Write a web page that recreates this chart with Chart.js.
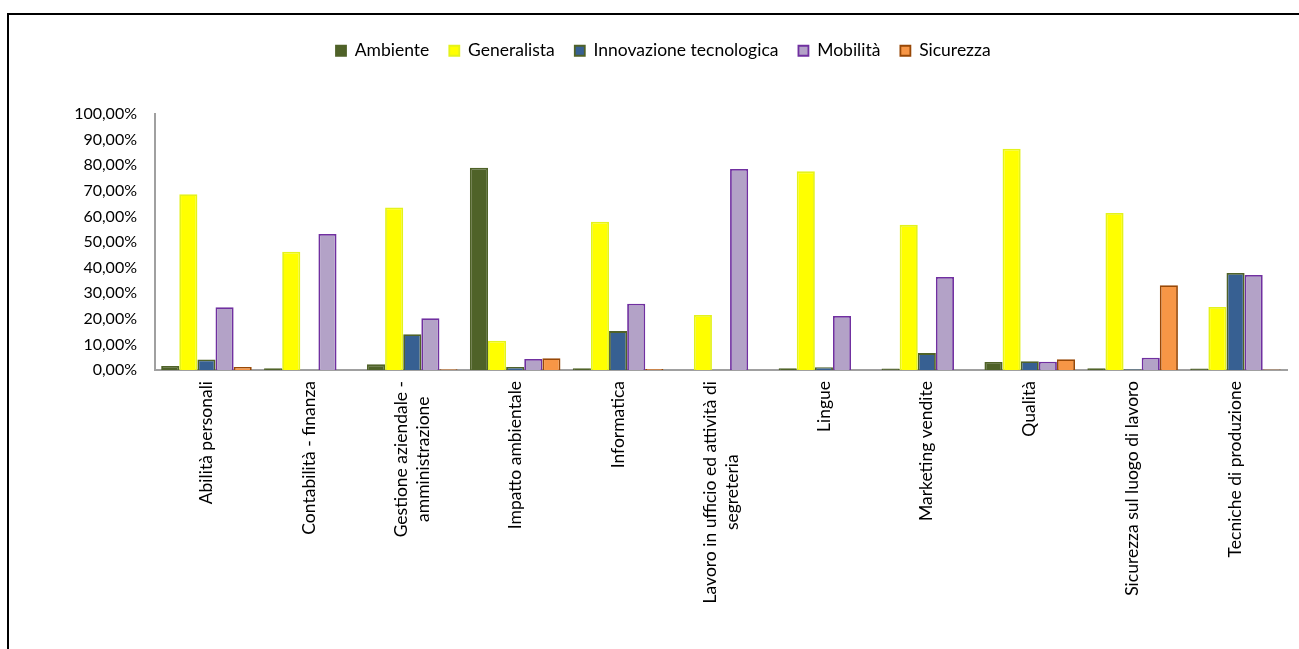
<!DOCTYPE html>
<html>
<head>
<meta charset="utf-8">
<script src="https://cdn.jsdelivr.net/npm/chart.js@4/dist/chart.umd.min.js"></script>
<style>
  html, body { margin: 0; padding: 0; background: #fff; overflow: hidden; }
  #wrap { position: relative; width: 1299px; height: 649px; }
  #frame { position: absolute; left: 7px; top: 13px; width: 1400px; height: 700px;
           border-left: 2px solid #000; border-top: 2px solid #000; pointer-events: none; }
</style>
</head>
<body>
<div id="wrap">
  <canvas id="chart" width="1299" height="649"></canvas>
  <div id="frame"></div>
</div>
<script>
// categorie (le etichette su due righe sono array)
const categories = [
  'Abilità personali',
  'Contabilità - finanza',
  ['Gestione aziendale -', 'amministrazione'],
  'Impatto ambientale',
  'Informatica',
  ['Lavoro in ufficio ed attività di', 'segreteria'],
  'Lingue',
  'Marketing vendite',
  'Qualità',
  'Sicurezza sul luogo di lavoro',
  'Tecniche di produzione'
];

// percentuali per area
const ambiente    = [1.6, 0.7, 2.2, 79.0, 0.7, 0, 0.7, 0.6, 3.1, 0.7, 0.6];
const generalista = [68.7, 46.2, 63.5, 11.4, 57.9, 21.5, 77.6, 56.7, 86.4, 61.3, 24.6];
const innovazione = [4.1, 0, 14.0, 1.2, 15.2, 0, 1.1, 6.6, 3.4, 0.3, 37.9];
const mobilita    = [24.5, 53.1, 20.2, 4.3, 25.9, 78.5, 21.1, 36.3, 3.2, 4.8, 37.1];
const sicurezza   = [1.2, 0, 0.3, 4.6, 0.4, 0, 0, 0, 4.2, 33.1, 0.2];

const yTicks = [0, 10, 20, 30, 40, 50, 60, 70, 80, 90, 100];

const FONT = 'Lato';
const TICK_SIZE = 16;
const LABEL_SIZE = 17.5;

function ds(label, data, bg, border) {
  return { label, data, backgroundColor: bg, borderColor: border, borderWidth: 1.8 };
}

// etichette asse x: ruotate, righe centrate sulla categoria
const xLabelsPlugin = {
  id: 'xLabels',
  afterDraw(chart) {
    const { ctx } = chart;
    const x = chart.scales.x;
    const lineH = 22;
    ctx.save();
    ctx.font = `${LABEL_SIZE}px ${FONT}`;
    ctx.fillStyle = '#000';
    ctx.textAlign = 'center';
    ctx.textBaseline = 'middle';
    categories.forEach((lab, i) => {
      const lines = [].concat(lab);
      const w = Math.max(...lines.map(l => ctx.measureText(l).width));
      const px = x.getPixelForTick(i);
      lines.forEach((l, j) => {
        ctx.save();
        ctx.translate(px + (j - (lines.length - 1) / 2) * lineH, x.top + 11 + w / 2);
        ctx.rotate(-Math.PI / 2);
        ctx.fillText(l, 0, 0);
        ctx.restore();
      });
    });
    ctx.restore();
  }
};

// legenda in alto, spostata a mano
const legendPlacePlugin = {
  id: 'legendPlace',
  beforeLayout(chart) {
    const lg = chart.legend;
    if (lg && !lg._patched) {
      const fit = lg.fit;
      lg.fit = function () { fit.call(this); this.height = 96; };
      lg._patched = true;
    }
  },
  beforeDraw(chart) {
    const lg = chart.legend;
    lg.left = 316;
    lg.right = 1295;
    lg.top = 22;
  }
};

new Chart(document.getElementById('chart'), {
  type: 'bar',
  data: {
    labels: categories,
    datasets: [
      ds('Ambiente', ambiente, '#4F6228', '#4F6228'),
      ds('Generalista', generalista, '#FFFF00', '#E4F21C'),
      ds('Innovazione tecnologica', innovazione, '#376092', '#4F6228'),
      ds('Mobilità', mobilita, '#B3A2C7', '#7030A0'),
      ds('Sicurezza', sicurezza, '#F79646', '#984807')
    ]
  },
  options: {
    responsive: false,
    animation: false,
    layout: { padding: { left: 0, right: 12, top: 18, bottom: 0 } },
    datasets: { bar: { categoryPercentage: 0.88, barPercentage: 1 } },
    plugins: {
      legend: {
        position: 'top',
        align: 'start',
        labels: {
          boxWidth: 10, boxHeight: 10, padding: 20,
          color: '#000',
          font: { family: FONT, size: LABEL_SIZE }
        }
      },
      tooltip: { enabled: false }
    },
    scales: {
      x: {
        grid: { display: false, drawTicks: false },
        border: { color: '#A0A0A0', width: 2 },
        ticks: { display: false },
        afterFit(s) { s.height = 279; }
      },
      y: {
        min: 0, max: 100,
        afterBuildTicks(s) { s.ticks = yTicks.map(v => ({ value: v })); },
        grid: { display: false, drawTicks: false },
        border: { color: '#A0A0A0', width: 2 },
        ticks: {
          padding: 18,
          color: '#000',
          font: { family: FONT, size: TICK_SIZE },
          callback: v => v.toFixed(2).replace('.', ',') + '%'
        },
        afterFit(s) { s.width = 155; }
      }
    }
  },
  plugins: [xLabelsPlugin, legendPlacePlugin]
});
</script>
</body>
</html>
